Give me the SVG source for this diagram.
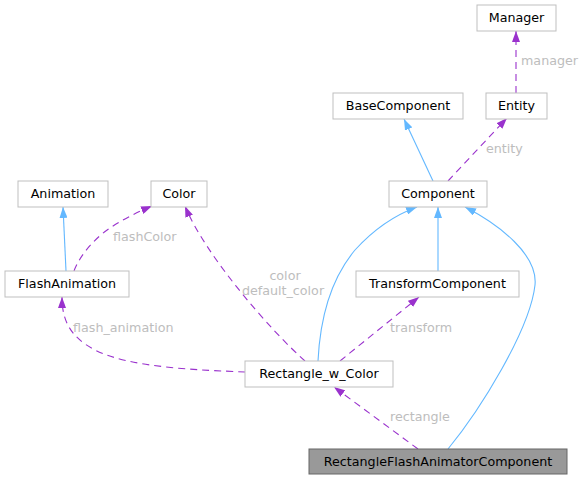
<svg xmlns="http://www.w3.org/2000/svg" width="585" height="480" viewBox="0 0 585 480">
<style>
.node rect{fill:#ffffff;stroke:#bfbfbf;stroke-width:1}
.node text{font-family:"DejaVu Sans",sans-serif;font-size:12.7px;fill:#000000;text-anchor:middle}
.root rect{fill:#999999;stroke:#666666}
.inh{fill:none;stroke:#63b8ff;stroke-width:1.1}
.use{fill:none;stroke:#9a32cd;stroke-width:1.1;stroke-dasharray:7,5}
.lbl{font-family:"DejaVu Sans",sans-serif;font-size:12.7px;fill:#bdbdbd}
</style>
<defs>
<marker id="ab" viewBox="0 0 11 8" refX="11" refY="4" markerWidth="11" markerHeight="8" markerUnits="userSpaceOnUse" orient="auto"><path d="M0,0 L11,4 L0,8 z" fill="#63b8ff"/></marker>
<marker id="ap" viewBox="0 0 11 8" refX="11" refY="4" markerWidth="11" markerHeight="8" markerUnits="userSpaceOnUse" orient="auto"><path d="M0,0 L11,4 L0,8 z" fill="#9a32cd"/></marker>
</defs>
<g id="edges">
<path class="use" d="M516,93 L516,31" marker-end="url(#ap)"/>
<text class="lbl" x="521" y="65">manager</text>
<path class="inh" d="M433,181 L404,119" marker-end="url(#ab)"/>
<path class="use" d="M448,181 L507,118" marker-end="url(#ap)"/>
<text class="lbl" x="486" y="153">entity</text>
<path class="inh" d="M66,271 L63,207" marker-end="url(#ab)"/>
<path class="use" d="M74,271 C80,255 95,238 110,228 C125,218 140,211 152,206" marker-end="url(#ap)"/>
<text class="lbl" x="113" y="241">flashColor</text>
<path class="use" d="M305,361 C270,330 205,255 185,206" marker-end="url(#ap)"/>
<text class="lbl" x="285" y="280" text-anchor="middle">color</text>
<text class="lbl" x="283" y="295" text-anchor="middle">default_color</text>
<path class="inh" d="M318,361 C320,320 330,280 355,250 C375,228 395,215 417,207" marker-end="url(#ab)"/>
<path class="inh" d="M438,271 L438,207" marker-end="url(#ab)"/>
<path class="inh" d="M448,449 C480,410 530,330 535,285 C538,255 500,225 465,207" marker-end="url(#ab)"/>
<path class="use" d="M340,361 L419,297" marker-end="url(#ap)"/>
<text class="lbl" x="390" y="332">transform</text>
<path class="use" d="M245,372 C200,370 130,368 95,350 C70,337 62,320 62,297" marker-end="url(#ap)"/>
<text class="lbl" x="73" y="332">flash_animation</text>
<path class="use" d="M418,449 L334,387" marker-end="url(#ap)"/>
<text class="lbl" x="390" y="421">rectangle</text>
</g>
<g id="Manager" class="node"><rect x="477" y="5" width="79" height="26"/><text x="516.5" y="22">Manager</text></g>
<g id="BaseComponent" class="node"><rect x="333" y="93" width="130" height="26"/><text x="398" y="110">BaseComponent</text></g>
<g id="Entity" class="node"><rect x="486" y="93" width="61" height="26"/><text x="516.5" y="110">Entity</text></g>
<g id="Component" class="node"><rect x="389" y="181" width="98" height="26"/><text x="438" y="198">Component</text></g>
<g id="Animation" class="node"><rect x="18" y="181" width="90" height="26"/><text x="63" y="198">Animation</text></g>
<g id="Color" class="node"><rect x="151" y="181" width="56" height="26"/><text x="179" y="198">Color</text></g>
<g id="FlashAnimation" class="node"><rect x="5" y="271" width="124" height="26"/><text x="67" y="288">FlashAnimation</text></g>
<g id="TransformComponent" class="node"><rect x="356" y="271" width="163" height="26"/><text x="437.5" y="288">TransformComponent</text></g>
<g id="Rectangle_w_Color" class="node"><rect x="245" y="361" width="148" height="26"/><text x="319" y="378">Rectangle_w_Color</text></g>
<g id="RectangleFlashAnimatorComponent" class="node root"><rect x="309" y="449" width="258" height="25"/><text x="438" y="465.5">RectangleFlashAnimatorComponent</text></g>
</svg>
